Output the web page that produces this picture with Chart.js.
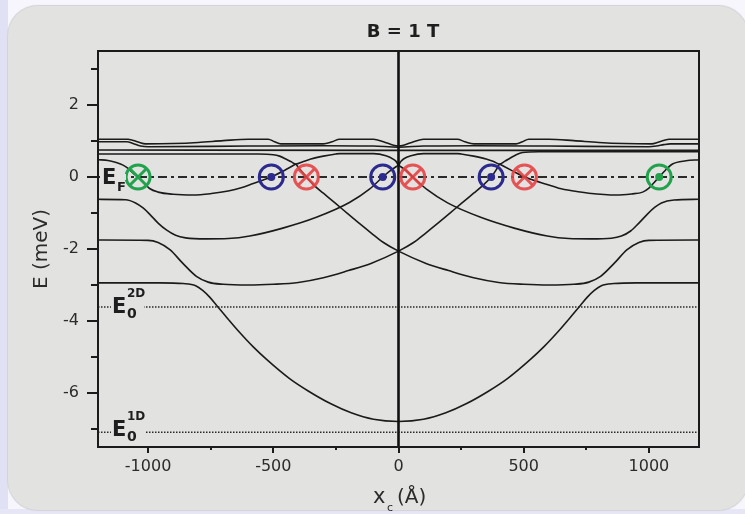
<!DOCTYPE html>
<html>
<head>
<meta charset="utf-8">
<title>B = 1 T</title>
<script src="https://cdn.jsdelivr.net/npm/chart.js@4.4.1/dist/chart.umd.min.js"></script>
<style>
  html, body { margin: 0; padding: 0; }
  body { width: 745px; height: 514px; position: relative; overflow: hidden; background: #f6f6fc; }
  #leftStrip { position: absolute; left: 0; top: 0; width: 8px; height: 514px; background: #e1e1f5; }
  #bottomStrip { position: absolute; left: 0; top: 509px; width: 745px; height: 5px; background: #e6e6f7; }
  #panel { position: absolute; left: 8px; top: 6px; width: 740px; height: 504px; border-radius: 30px; background: #e2e2e0; box-shadow: 0 0 1px 1px #d2d2d6; }
  canvas { position: absolute; left: 0; top: 0; }
</style>
</head>
<body>
<div id="leftStrip"></div>
<div id="bottomStrip"></div>
<div id="panel"></div>
<canvas id="chart" width="745" height="514"></canvas>
<script>
const PANEL = "#e2e2e0";
const INK = "#1b1b1b";

const xRange = [-1200, 1200];
const eRange = [-7.5, 3.5];
const xTicks = [-1000, -750, -500, -250, 0, 250, 500, 750, 1000];
const eTicks = [-7, -6, -5, -4, -3, -2, -1, 0, 1, 2, 3];
const eFermi = 0;
const e2D = -3.61;
const e1D = -7.09;

// energy levels E(x_c), meV vs Angstrom
const levelA = [
  [-1200, -2.94], [-950, -2.94], [-860, -2.96], [-810, -3.02], [-782, -3.15], [-755, -3.33],
  [-727, -3.56], [-680, -3.95], [-634, -4.32], [-580, -4.72], [-528, -5.06], [-435, -5.6],
  [-359, -5.95], [-270, -6.3], [-189, -6.55], [-100, -6.73], [0, -6.79], [100, -6.73],
  [189, -6.55], [270, -6.3], [359, -5.95], [435, -5.6], [528, -5.06], [580, -4.72],
  [634, -4.32], [680, -3.95], [727, -3.56], [755, -3.33], [782, -3.15], [810, -3.02],
  [860, -2.96], [950, -2.94], [1200, -2.94],
];
const levelBLeft = [
  [-1200, -1.75], [-1000, -1.76], [-960, -1.82], [-913, -2.02], [-861, -2.4], [-807, -2.76],
  [-760, -2.92], [-700, -2.98], [-600, -3.0], [-500, -2.98], [-400, -2.93], [-300, -2.8],
  [-200, -2.6], [-110, -2.4], [0, -2.06], [60, -1.82], [110, -1.55], [160, -1.27],
  [203, -1.02], [250, -0.74], [300, -0.45], [336, -0.24], [370, 0], [390, 0.2], [403, 0.36],
];
const levelBRight = [
  [-410, 0.36], [-392, 0.2], [-368, 0], [-336, -0.24], [-300, -0.45], [-250, -0.74],
  [-203, -1.02], [-160, -1.27], [-110, -1.55], [-60, -1.82], [0, -2.06], [110, -2.4],
  [200, -2.6], [300, -2.8], [400, -2.93], [500, -2.98], [600, -3.0], [700, -2.98],
  [760, -2.92], [807, -2.76], [861, -2.4], [913, -2.02], [960, -1.82], [1000, -1.76], [1200, -1.75],
];
const levelCLeft = [
  [-1200, -0.62], [-1090, -0.63], [-1050, -0.72], [-1020, -0.86], [-994, -1.03], [-960, -1.28],
  [-927, -1.47], [-890, -1.62], [-850, -1.69], [-767, -1.72], [-680, -1.71], [-594, -1.64],
  [-462, -1.42], [-328, -1.12], [-196, -0.71], [-116, -0.34], [-63, 0], [-30, 0.19], [0, 0.33],
];
const levelCRight = [
  [0, 0.33], [28, 0.19], [57, 0], [116, -0.36], [196, -0.72], [328, -1.12], [462, -1.42],
  [594, -1.64], [680, -1.71], [767, -1.72], [850, -1.7], [890, -1.64], [927, -1.5],
  [960, -1.28], [994, -1.03], [1024, -0.84], [1050, -0.72], [1100, -0.64], [1200, -0.62],
];
const levelDLeft = [
  [-1200, 0.48], [-1160, 0.46], [-1127, 0.4], [-1100, 0.33], [-1080, 0.24], [-1060, 0.11],
  [-1040, 0], [-1020, -0.14], [-994, -0.32], [-960, -0.42], [-900, -0.48], [-820, -0.5],
  [-747, -0.46], [-680, -0.39], [-628, -0.3], [-580, -0.18], [-540, -0.08], [-508, 0],
  [-462, 0.16], [-410, 0.36],
];
const levelDRight = [
  [403, 0.36], [455, 0.17], [503, 0], [540, -0.09], [590, -0.2], [640, -0.31], [700, -0.39],
  [760, -0.45], [868, -0.5], [930, -0.47], [975, -0.42], [1000, -0.31], [1020, -0.16],
  [1041, 0], [1065, 0.18], [1094, 0.36], [1148, 0.45], [1200, 0.48],
];
const band1 = [
  [-1200, 1.05], [-1080, 1.05], [-1040, 0.97], [-1010, 0.92], [-900, 0.93], [-800, 0.96],
  [-700, 1.01], [-600, 1.05], [-520, 1.05], [-495, 0.98], [-470, 0.92], [-300, 0.92],
  [-265, 0.98], [-235, 1.05], [-100, 1.05], [-60, 0.98], [-20, 0.88], [0, 0.86], [20, 0.88],
  [60, 0.98], [100, 1.05], [235, 1.05], [265, 0.98], [300, 0.92], [470, 0.92], [495, 0.98],
  [520, 1.05], [600, 1.05], [700, 1.01], [800, 0.96], [900, 0.93], [1010, 0.92],
  [1040, 0.97], [1080, 1.05], [1200, 1.05],
];
const band2 = [
  [-1200, 0.98], [-1085, 0.98], [-1060, 0.93], [-1030, 0.86], [-1000, 0.84], [-600, 0.86],
  [-300, 0.87], [-100, 0.86], [0, 0.83], [100, 0.86], [300, 0.87], [600, 0.86], [1000, 0.84],
  [1030, 0.86], [1060, 0.9], [1085, 0.92], [1200, 0.92],
];
const band3 = [[-1200, 0.75], [0, 0.74], [1200, 0.74]];
const band4 = [
  [-1200, 0.64], [-560, 0.64], [-500, 0.62], [-475, 0.58], [-450, 0.5], [-430, 0.43],
  [-410, 0.36], [-380, 0.43], [-350, 0.5], [-300, 0.58], [-250, 0.64], [-235, 0.65],
  [-100, 0.65], [-50, 0.59], [-20, 0.49], [-8, 0.42], [0, 0.33], [8, 0.42], [20, 0.5],
  [50, 0.59], [100, 0.65], [235, 0.65], [250, 0.64], [300, 0.58], [350, 0.5], [380, 0.43],
  [403, 0.36], [425, 0.44], [445, 0.52], [470, 0.62], [495, 0.68], [560, 0.7], [1200, 0.7],
];

// Fermi-level crossings: current out of / into the page
const blueDotX = [-508, -63, 370];
const redCrossX = [-368, 57, 503];
const greenCrossX = [-1040];
const greenDotX = [1041];

const BLUE = "#2c2a8e";
const RED = "rgba(229, 68, 70, 0.9)";
const GREEN = "#22a24c";

const pts = (arr) => arr.map(([x, y]) => ({ x, y }));
const onFermi = (xs) => xs.map((x) => ({ x, y: eFermi }));

function curve(arr) {
  return {
    data: pts(arr),
    borderColor: INK,
    borderWidth: 1.6,
    pointRadius: 0,
    cubicInterpolationMode: "monotone",
    fill: false,
  };
}

function ring(xs, color) {
  return {
    data: onFermi(xs),
    showLine: false,
    pointStyle: "circle",
    pointRadius: 12,
    pointBorderWidth: 3,
    pointBorderColor: color,
    pointBackgroundColor: "rgba(0,0,0,0)",
  };
}

function cross(xs, color) {
  return {
    data: onFermi(xs),
    showLine: false,
    pointStyle: "crossRot",
    pointRadius: 11,
    pointBorderWidth: 3,
    pointBorderColor: color,
  };
}

function dot(xs, color) {
  return {
    data: onFermi(xs),
    showLine: false,
    pointStyle: "circle",
    pointRadius: 4,
    pointBorderWidth: 0,
    pointBackgroundColor: color,
  };
}

function refLine(e, dash, width) {
  return {
    data: pts([[xRange[0], e], [xRange[1], e]]),
    borderColor: "#2a2a2a",
    borderWidth: width,
    borderDash: dash,
    pointRadius: 0,
    tension: 0,
  };
}

// first dataset is painted last, so markers go first and reference lines last
const datasets = [
  dot(blueDotX, BLUE), ring(blueDotX, BLUE),
  cross(redCrossX, RED), ring(redCrossX, RED),
  cross(greenCrossX, GREEN), ring(greenCrossX, GREEN),
  dot(greenDotX, GREEN), ring(greenDotX, GREEN),
  {
    data: pts([[0, eRange[1]], [0, eRange[0]]]),
    borderColor: "#111",
    borderWidth: 2.6,
    pointRadius: 0,
    tension: 0,
  },
  curve(levelA), curve(levelBLeft), curve(levelBRight),
  curve(levelCLeft), curve(levelCRight), curve(levelDLeft), curve(levelDRight),
  curve(band1), curve(band2), curve(band3), curve(band4),
  refLine(eFermi, [9, 4, 3, 4], 1.8),
  refLine(e2D, [1.5, 1.5], 1.6),
  refLine(e1D, [1.5, 1.5], 1.6),
];

const FONT = "DejaVu Sans";

function text(ctx, s, x, y, size, bold, align) {
  ctx.font = `${bold ? "bold " : ""}${size}px "${FONT}"`;
  ctx.textAlign = align || "left";
  ctx.textBaseline = "alphabetic";
  ctx.fillText(s, x, y);
}

// E with a subscript and optional superscript
function level(ctx, x, y, sub, sup) {
  text(ctx, "E", x, y, 21, true);
  text(ctx, sub, x + 15, y + (sup ? 5 : 7), sup ? 14 : 13, true);
  if (sup) text(ctx, sup, x + 15, y - 16, 12, true);
}

const frame = {
  id: "frame",
  afterDatasetsDraw(chart) {
    const { ctx, chartArea: a, scales: { x, y } } = chart;
    ctx.save();

    // clear the reference lines behind their labels
    ctx.fillStyle = PANEL;
    ctx.fillRect(a.left + 2, y.getPixelForValue(eFermi) - 3, 26, 6);
    ctx.fillRect(a.left + 13, y.getPixelForValue(e2D) - 3, 33, 6);
    ctx.fillRect(a.left + 13, y.getPixelForValue(e1D) - 3, 35, 6);

    ctx.strokeStyle = INK;
    ctx.lineWidth = 2;
    ctx.strokeRect(a.left, a.top, a.right - a.left, a.bottom - a.top);

    ctx.beginPath();
    for (const t of y.ticks) {
      const py = Math.round(y.getPixelForValue(t.value));
      const len = t.value % 2 === 0 ? 11 : 7;
      ctx.moveTo(a.left - len, py);
      ctx.lineTo(a.left, py);
    }
    for (const t of x.ticks) {
      const px = Math.round(x.getPixelForValue(t.value));
      const len = t.value % 500 === 0 ? 6 : 3;
      ctx.moveTo(px, a.bottom);
      ctx.lineTo(px, a.bottom + len);
    }
    ctx.stroke();

    ctx.fillStyle = "#1e1e1e";
    text(ctx, "B = 1 T", 403, 37, 18, true, "center");

    level(ctx, a.left + 4, y.getPixelForValue(eFermi) + 7, "F");
    level(ctx, a.left + 14, y.getPixelForValue(e2D) + 6, "0", "2D");
    level(ctx, a.left + 14, y.getPixelForValue(e1D) + 4, "0", "1D");

    ctx.fillStyle = "#2b2b2b";
    text(ctx, "x", 373, 503, 21, false);
    text(ctx, "c", 387, 511, 11, false);
    text(ctx, "(\u00c5)", 397, 503, 20, false);

    ctx.restore();
  },
};

new Chart(document.getElementById("chart"), {
  type: "line",
  data: { datasets },
  options: {
    responsive: false,
    animation: false,
    devicePixelRatio: 1,
    layout: { padding: { top: 51, right: 46, bottom: 0, left: 0 } },
    plugins: { legend: { display: false }, tooltip: { enabled: false } },
    scales: {
      x: {
        type: "linear",
        min: xRange[0],
        max: xRange[1],
        afterBuildTicks: (s) => { s.ticks = xTicks.map((value) => ({ value })); },
        afterFit: (s) => { s.height = 67; },
        border: { display: false },
        grid: { display: false, drawTicks: false },
        ticks: {
          autoSkip: false,
          maxRotation: 0,
          padding: 10,
          color: "#2b2b2b",
          font: { family: FONT, size: 16 },
          callback: (v) => (v % 500 === 0 ? String(v) : ""),
        },
      },
      y: {
        type: "linear",
        min: eRange[0],
        max: eRange[1],
        afterBuildTicks: (s) => { s.ticks = eTicks.map((value) => ({ value })); },
        afterFit: (s) => { s.width = 98; },
        border: { display: false },
        grid: { display: false, drawTicks: false },
        ticks: {
          autoSkip: false,
          padding: 19,
          color: "#2b2b2b",
          font: { family: FONT, size: 16 },
          callback: (v) => (v % 2 === 0 ? String(v) : ""),
        },
        title: {
          display: true,
          text: "E (meV)",
          color: "#2b2b2b",
          font: { family: FONT, size: 20 },
          padding: { top: 30, bottom: 0 },
        },
      },
    },
  },
  plugins: [frame],
});
</script>
</body>
</html>
